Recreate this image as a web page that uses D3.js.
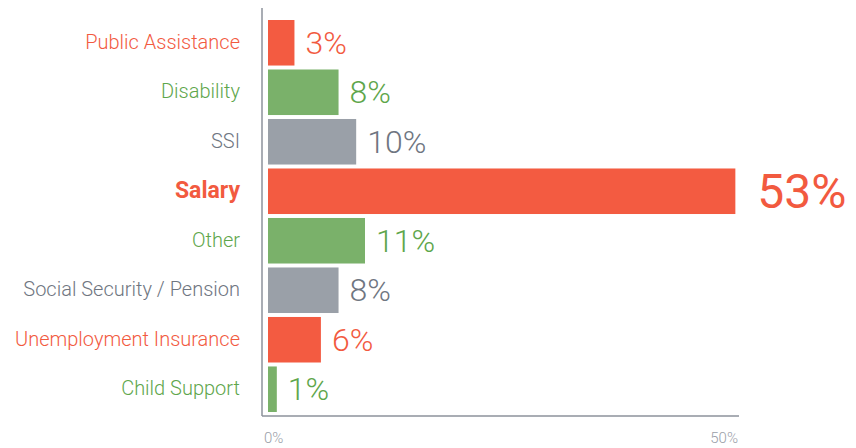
<!DOCTYPE html>
<html>
<head>
<meta charset="utf-8">
<script src="https://cdn.jsdelivr.net/npm/d3@7"></script>
<style>
  body { margin: 0; background: #fff; }
  text { font-family: Roboto, "Open Sans", sans-serif; }
</style>
</head>
<body>
<div id="container"></div>
<script>
// data
let categories = ['Public Assistance', 'Disability', 'SSI', 'Salary', 'Other',
  'Social Security / Pension', 'Unemployment Insurance', 'Child Support']
let shares = [3, 8, 10, 53, 11, 8, 6, 1]
let groups = ['red', 'green', 'gray', 'red', 'green', 'gray', 'red', 'green']
let highlight = 'Salary'
let tickLabels = ['0%', '50%']

let width = 856
let height = 448
let margin = {top: 8, left: 262, right: 118, bottom: 32}

let barColor = {red: '#f35b41', green: '#7ab16a', gray: '#9aa0a8'}
let textColor = {red: '#f25a3f', green: '#5ea64b', gray: '#6f7681'}

function main() {
    let svg = d3.select('#container').append('svg')
      .attr('width', width)
      .attr('height', height)

    let xScale = d3.scaleLinear()
      .domain([0, 53.3])
      .range([margin.left + 6, width - margin.right])

    let yScale = d3.scaleBand()
      .domain(categories)
      .range([20, 412])
      .paddingInner(0.08)
      .paddingOuter(0)

    let rows = categories.map((c, i) => ({name: c, value: shares[i], group: groups[i]}))

    // axis lines (L shape)
    let baseY = height - margin.bottom
    svg.append('line')
      .attr('x1', margin.left).attr('x2', margin.left)
      .attr('y1', margin.top).attr('y2', baseY)
      .attr('stroke', '#8c929b').attr('stroke-width', 1.5)
    svg.append('line')
      .attr('x1', margin.left).attr('x2', xScale.range()[1] + 1)
      .attr('y1', baseY).attr('y2', baseY)
      .attr('stroke', '#8c929b').attr('stroke-width', 1.5)

    // tick labels at both ends of the axis
    svg.selectAll('.tick-label')
      .data(tickLabels)
      .enter()
      .append('text')
      .attr('class', 'tick-label')
      .attr('x', (d, i) => i == 0 ? margin.left + 2 : xScale.range()[1])
      .attr('y', baseY + 27)
      .attr('text-anchor', (d, i) => i == 0 ? 'start' : 'end')
      .style('font-size', '15px')
      .style('font-weight', 300)
      .style('fill', '#9aa0a8')
      .text(d => d)

    // bars
    svg.selectAll('rect')
      .data(rows)
      .enter()
      .append('rect')
      .attr('x', xScale(0))
      .attr('y', d => yScale(d.name))
      .attr('width', d => xScale(d.value) - xScale(0))
      .attr('height', yScale.bandwidth())
      .style('fill', d => barColor[d.group])

    // category labels
    svg.selectAll('.cat')
      .data(rows)
      .enter()
      .append('text')
      .attr('class', 'cat')
      .attr('x', margin.left - 22)
      .attr('y', d => yScale(d.name) + yScale.bandwidth() / 2)
      .attr('dy', '0.3em')
      .attr('text-anchor', 'end')
      .style('font-size', d => d.name == highlight ? '23px' : '20px')
      .style('font-weight', d => d.name == highlight ? 700 : 300)
      .style('fill', d => textColor[d.group])
      .text(d => d.name)

    // value labels
    svg.selectAll('.val')
      .data(rows)
      .enter()
      .append('text')
      .attr('class', 'val')
      .attr('x', d => xScale(d.value) + (d.name == highlight ? 22 : 11))
      .attr('y', d => yScale(d.name) + yScale.bandwidth() / 2)
      .attr('dy', '0.34em')
      .style('font-size', d => d.name == highlight ? '48px' : '32px')
      .style('font-weight', d => d.name == highlight ? 400 : 300)
      .style('fill', d => textColor[d.group])
      .text(d => d.value + '%')
}

main()
</script>
</body>
</html>
